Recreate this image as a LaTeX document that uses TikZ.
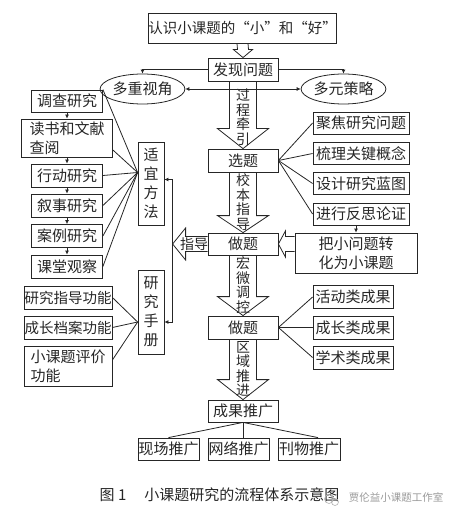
\documentclass[tikz,border=0pt]{standalone}
\usepackage{fontspec}
\setmainfont{Noto Sans CJK SC}
\usetikzlibrary{arrows.meta, calc, shapes.geometric}

% 空心箭头：#1 起点结点，#2 终点结点，#3 箭杆半宽，#4 箭头半宽，#5 箭头长
\newcommand{\hollowdown}[5]{%
  \draw[hollow] ($(#1.south)+(-#3,0)$) -- ($(#2.north)+(-#3,-#5)$) -- ($(#2.north)+(-#4,-#5)$)
    -- (#2.north) -- ($(#2.north)+(#4,-#5)$) -- ($(#2.north)+(#3,-#5)$) -- ($(#1.south)+(#3,0)$);}
% 向左的空心箭头：#2 为箭尖坐标
\newcommand{\hollowleft}[5]{%
  \draw[hollow] ($(#1.west |- #2)+(0,-#3)$) -- ($(#2)+(#5,-#3)$) -- ($(#2)+(#5,-#4)$)
    -- (#2) -- ($(#2)+(#5,#4)$) -- ($(#2)+(#5,#3)$) -- ($(#1.west |- #2)+(0,#3)$);}

\begin{document}
\begin{tikzpicture}[x=1pt, y=-1pt,
    box/.style={draw=black!85, line width=0.8pt, inner sep=0pt, text=black!85,
        font=\fontsize{15}{19}\selectfont},
    oval/.style={box, ellipse, minimum width=80pt, minimum height=30pt},
    vtext/.style={inner sep=0pt, align=center, text=black!85,
        font=\fontsize{14}{14.5}\selectfont},
    link/.style={draw=black!85, line width=0.8pt},
    smallarr/.style={link, -{Latex[length=4pt,width=4pt]}},
    hollow/.style={draw=black!85, line width=0.8pt}]

    \useasboundingbox (0,0) rectangle (460,521);

    % 中轴
    \node[box, minimum width=175pt, minimum height=30pt, font=\fontsize{14.5}{19}\selectfont] (rzxkt) at (242.5,28) {认识小课题的“小”和“好”};
    \node[box, minimum width=70pt, minimum height=23pt] (fxwt) at (243,69.5) {发现问题};
    \node[box, minimum width=70pt, minimum height=23pt] (xt) at (243,160.5) {选题};
    \node[box, minimum width=70pt, minimum height=22pt] (zt1) at (243,244) {做题};
    \node[box, minimum width=70pt, minimum height=23pt] (zt2) at (243,327.5) {做题};
    \node[box, minimum width=70pt, minimum height=22pt] (cgtg) at (243,411) {成果推广};

    \node[oval] (dcsj) at (142.5,89) {多重视角};
    \node[oval] (dycl) at (343.5,89) {多元策略};

    % 空心箭头
    \hollowdown{rzxkt}{fxwt}{5.5}{9.5}{8}
    \hollowdown{fxwt}{xt}{13.5}{25.5}{20}
    \hollowdown{xt}{zt1}{13.5}{25.5}{17}
    \hollowdown{zt1}{zt2}{13.5}{25.5}{19}
    \hollowdown{zt2}{cgtg}{13.5}{25.5}{20}

    \node[vtext] (gcqy) at (243,117) {过\\程\\牵\\引};
    \node[vtext] (xbzd) at (243,202) {校\\本\\指\\导};
    \node[vtext] (hwtk) at (243,285) {宏\\微\\调\\控};
    \node[vtext] (qytj) at (243,369) {区\\域\\推\\进};

    \draw[smallarr] (fxwt.west) -| (dcsj.north);
    \draw[smallarr] (fxwt.east) -| (dycl.north);
    \draw[link, {Latex[length=4pt,width=4pt]}-{Latex[length=4pt,width=4pt]}] (dcsj.east) -- (dycl.west);

    % 左侧：适宜方法
    \node[box, minimum width=26pt, minimum height=83pt, align=center] (syff) at (151,183.5) {适\\宜\\方\\法};
    \node[box, minimum width=71pt, minimum height=22pt] (dcyj) at (67,101) {调查研究};
    \node[box, minimum width=91pt, minimum height=38pt, align=left] (dswx) at (67,138) {读书和文献\\查阅};
    \foreach \name/\txt/\y in {xdyj/行动研究/175.5, xsyj/叙事研究/205.5, alyj/案例研究/236, ktgc/课堂观察/266.5}
        \node[box, minimum width=71pt, minimum height=23pt] (\name) at (67,\y) {\txt};
    \foreach \a/\b in {dcyj/dswx, dswx/xdyj, xdyj/xsyj, xsyj/alyj, alyj/ktgc}
        \draw[smallarr] (\a.south) -- (\a.south |- \b.north);
    \coordinate (syin) at ($(syff.west)+(0,-11)$);
    \draw[link] (dcyj.north east) -- (syin);
    \draw[link] ($(dswx.east)+(0,12)$) -- (syin);
    \foreach \name in {xdyj, xsyj, alyj, ktgc}
        \draw[link] (\name.east) -- (syin);

    % 左侧：研究手册
    \node[box, minimum width=26pt, minimum height=84pt, align=center] (yjsc) at (151,312) {研\\究\\手\\册};
    \node[box, minimum width=88pt, minimum height=23pt, font=\fontsize{14.5}{19}\selectfont] (yjzd) at (68,297.5) {研究指导功能};
    \node[box, minimum width=88pt, minimum height=23pt, font=\fontsize{14.5}{19}\selectfont] (czda) at (68,327.5) {成长档案功能};
    \node[box, minimum width=88pt, minimum height=40pt, align=left] (ktpj) at (68,366) {小课题评价\\功能};
    \coordinate (scin) at ($(yjsc.west)+(0,10)$);
    \foreach \name in {yjzd, czda}
        \draw[link] (\name.east) -- (scin);
    \draw[link] ($(ktpj.east)+(0,-6)$) -- (scin);

    % 指导
    \coordinate (zdtip) at ($(zt1.west)+(-35,0)$);
    \hollowleft{zt1}{zdtip}{7.5}{16}{13}
    \node[vtext] (zd) at (194,244) {指导};
    \draw[smallarr] (zdtip) |- ($(syff.east)+(0,-4)$);
    \draw[smallarr] (zdtip) |- ($(yjsc.east)+(0,10)$);

    % 右侧：选题
    \foreach \name/\txt/\y in {jjwt/聚焦研究问题/123, slgj/梳理关键概念/153.5, sjlt/设计研究蓝图/183.5, jxfs/进行反思论证/214} {
        \node[box, minimum width=96pt, minimum height=22pt] (\name) at (361,\y) {\txt};
        \draw[link] (xt.east) -- (\name.west);
    }
    \node[box, minimum width=122pt, minimum height=40pt, align=left] (bxwt) at (356,253) {把小问题转\\化为小课题};
    \draw[smallarr] (jxfs.south -| bxwt.north) -- (bxwt.north);
    \hollowleft{bxwt}{zt1.east}{7.5}{13}{7}

    % 右侧：成果
    \foreach \name/\txt/\y in {hdcg/活动类成果/297, czcg/成长类成果/327.5, xscg/学术类成果/357.5} {
        \node[box, minimum width=80pt, minimum height=23pt] (\name) at (353,\y) {\txt};
        \draw[link] (zt2.east) -- (\name.west);
    }

    % 推广
    \node[box, minimum width=61pt, minimum height=22pt] (xctg) at (168.5,449) {现场推广};
    \node[box, minimum width=61pt, minimum height=22pt] (wltg) at (238.5,449) {网络推广};
    \node[box, minimum width=62pt, minimum height=22pt] (kwtg) at (309,449) {刊物推广};
    \draw[link] (cgtg.south) -- (xctg.north);
    \draw[link] (cgtg.south) -- (cgtg.south |- wltg.north);
    \draw[link] (cgtg.south) -- ($(kwtg.north)+(9,0)$);

    % 图题
    \node[inner sep=0pt, font=\fontsize{15}{16}\selectfont, text=black!85] (title) at (219.5,495)
        {图 1\hspace{1.2em}小课题研究的流程体系示意图};
    \draw[gray!60, line width=0.6pt] (329,499) circle (4.5) (335,502) circle (3.5);
    \node[inner sep=0pt, font=\fontsize{10.5}{11}\selectfont, text=gray!80] (mark) at (396,497) {贾伦益小课题工作室};
\end{tikzpicture}
\end{document}
